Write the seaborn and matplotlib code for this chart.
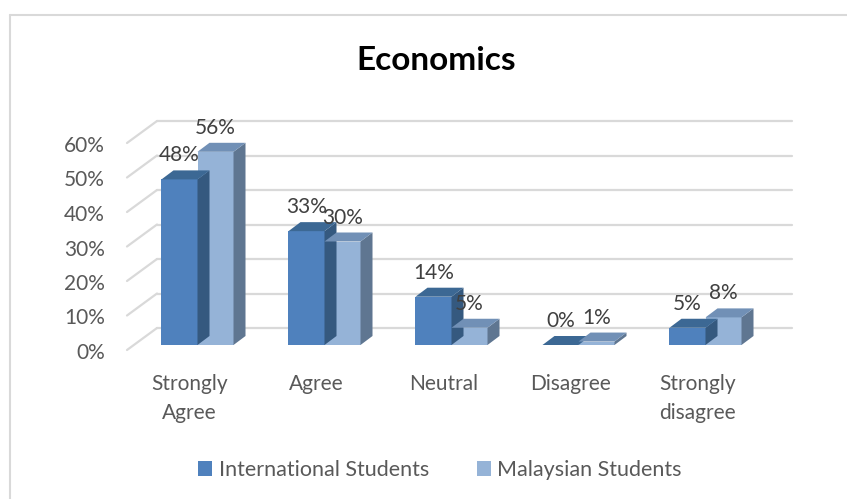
import numpy as np
import pandas as pd
import matplotlib
matplotlib.use("Agg")
import matplotlib.pyplot as plt
import seaborn as sns
from matplotlib.patches import Polygon, Patch
from matplotlib.lines import Line2D
from matplotlib.transforms import ScaledTranslation

categories = ["Strongly\nAgree", "Agree", "Neutral", "Disagree", "Strongly\ndisagree"]
series_names = ["International Students", "Malaysian Students"]
international = [0.48, 0.33, 0.14, 0.00, 0.05]
malaysian = [0.56, 0.30, 0.05, 0.01, 0.08]
y_ticks = [0.0, 0.1, 0.2, 0.3, 0.4, 0.5, 0.6]
y_tick_labels = ["0%", "10%", "20%", "30%", "40%", "50%", "60%"]

front_colors = ["#4F81BD", "#95B3D7"]
top_colors = ["#3C6894", "#7190B6"]
side_colors = ["#35597F", "#5F7691"]

df = pd.DataFrame({
    "category": categories * 2,
    "series": [series_names[0]] * len(categories) + [series_names[1]] * len(categories),
    "value": international + malaysian,
})

sns.set_theme(style="white")
FONT = ["Lato", "DejaVu Sans"]
plt.rcParams["font.family"] = FONT
TXT = "#595959"
FS = 15

W, H, DPI = 847, 499, 100
fig = plt.figure(figsize=(W / DPI, H / DPI), dpi=DPI)
# axes = front plane of the bars (pixels)
ax_l, ax_r, ax_b, ax_t = 134, 769, 345, 138
ax = fig.add_axes([ax_l / W, 1 - ax_b / H, (ax_r - ax_l) / W, (ax_b - ax_t) / H])

sns.barplot(data=df, x="category", y="value", hue="series", order=categories,
            hue_order=series_names, palette=front_colors, width=0.567,
            saturation=1, ax=ax, legend=False, linewidth=0)
ax.set_xlim(-0.5, len(categories) - 0.5)
ax.set_ylim(0, 0.6)
ax.set_xlabel("")
ax.set_ylabel("")
for s in ax.spines.values():
    s.set_visible(False)
ax.patch.set_alpha(0)

fig.canvas.draw()

# 3D faces of the bars
ddx, ddy = 12, 9
nc = len(categories)
for i, p in enumerate(ax.patches[:2 * nc]):
    si = i // nc
    x0, y0 = ax.transData.transform((p.get_x(), 0))
    x1, y1 = ax.transData.transform((p.get_x() + p.get_width(), p.get_height()))
    zb = 2 + si
    side = Polygon([(x1, y0), (x1 + ddx, y0 + ddy), (x1 + ddx, y1 + ddy), (x1, y1)],
                   closed=True, facecolor=side_colors[si], edgecolor="none",
                   transform=None, zorder=zb)
    top = Polygon([(x0, y1), (x0 + ddx, y1 + ddy), (x1 + ddx, y1 + ddy), (x1, y1)],
                  closed=True, facecolor=top_colors[si], edgecolor="none",
                  transform=None, zorder=zb)
    fig.add_artist(side)
    fig.add_artist(top)
    p.set_zorder(zb + 0.1)
    # data label
    val = p.get_height()
    fig.text((x0 + x1) / 2 / W, (y1 + 24) / H, f"{val * 100:.0f}%", ha="center",
             va="center", fontsize=FS, color="#404040", zorder=10)

# back wall gridlines and left diagonals
bx, by = 23, 17
fx, fy = -7, -5
grid_c = "#D9D9D9"
for t in y_ticks:
    xl, yy = ax.transData.transform((-0.5, t))
    xr, _ = ax.transData.transform((nc - 0.5, t))
    fig.add_artist(Line2D([xl + bx, xr + bx], [yy + by, yy + by], color=grid_c,
                          lw=1.6, transform=None, zorder=0))
    fig.add_artist(Line2D([xl + fx, xl + bx], [yy + fy, yy + by], color=grid_c,
                          lw=1.6, transform=None, zorder=0))

# ticks
ax.set_yticks(y_ticks)
ax.set_yticklabels(y_tick_labels, fontsize=FS, color=TXT)
ax.tick_params(axis="y", length=0, pad=16)
ax.tick_params(axis="x", length=0, pad=21)
ax.set_xticks(range(nc))
ax.set_xticklabels(categories, fontsize=FS, color=TXT, linespacing=1.57)
for lab in ax.get_yticklabels():
    lab.set_transform(lab.get_transform() + ScaledTranslation(-7 / DPI, -6 / DPI, fig.dpi_scale_trans))
for lab in ax.get_xticklabels():
    lab.set_transform(lab.get_transform() + ScaledTranslation(-8 / DPI, 0, fig.dpi_scale_trans))

# title
fig.text(436 / W, 1 - 60 / H, "Economics", ha="center", va="center",
         fontsize=24, fontweight="bold", color="black")

# legend
handles = [Patch(facecolor=c, edgecolor="none") for c in front_colors]
fig.legend(handles, series_names, loc="center", bbox_to_anchor=(440 / W, 1 - 470 / H),
           ncol=2, frameon=False, fontsize=15.5, handlelength=0.65, handleheight=0.65,
           handletextpad=0.3, columnspacing=2.2, labelcolor=TXT)

# chart border
fig.add_artist(Line2D([10, 10], [0, H - 15], color="#D9D9D9", lw=1.5, transform=None))
fig.add_artist(Line2D([10, W], [H - 15, H - 15], color="#D9D9D9", lw=1.5, transform=None))

fig.savefig("out.png", dpi=DPI)
